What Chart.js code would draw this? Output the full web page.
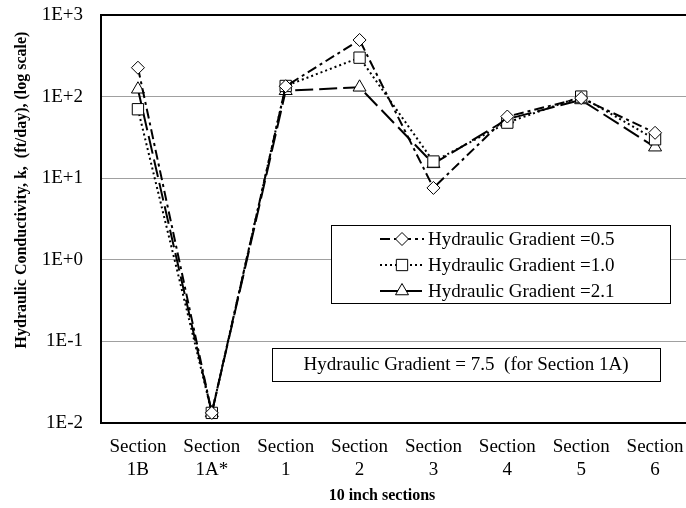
<!DOCTYPE html>
<html>
<head>
<meta charset="utf-8">
<script src="https://cdn.jsdelivr.net/npm/chart.js@4/dist/chart.umd.min.js"></script>
<style>
html, body { margin: 0; padding: 0; background: #fff; overflow: hidden; }
canvas { display: block; }
</style>
</head>
<body>
<canvas id="myChart" width="720" height="508"></canvas>
<script>
// categories along the bottom (two lines each)
const sections = [['Section', '1B'], ['Section', '1A*'], ['Section', '1'], ['Section', '2'],
                  ['Section', '3'], ['Section', '4'], ['Section', '5'], ['Section', '6']];

// hydraulic conductivity, ft/day
const grad05 = [226, 0.0133, 134, 494, 7.6, 57, 96, 36];
const grad10 = [70, 0.0133, 135, 300, 16, 48, 100, 30];
const grad21 = [123, 0.0133, 118, 130, 15, 53, 91, 24];

const seriesNames = ['Hydraulic Gradient =0.5', 'Hydraulic Gradient =1.0', 'Hydraulic Gradient =2.1'];
const yTickValues = [0.01, 0.1, 1, 10, 100, 1000];
const yTitle = 'Hydraulic Conductivity, k,  (ft/day), (log scale)';
const xTitle = '10 inch sections';
const noteText = 'Hydraulic Gradient = 7.5  (for Section 1A)';

const serif = '"Liberation Serif", "Times New Roman", serif';
// the plot runs a bit past the picture's right edge
const plotRight = 692;

function sci(v) {
    const e = Math.round(Math.log10(v));
    return '1E' + (e >= 0 ? '+' : '') + e;
}

// legend box, note box and axis titles
const overlay = {
    id: 'overlay',
    afterDraw(chart) {
        const ctx = chart.ctx;
        ctx.save();
        ctx.fillStyle = '#000';

        // y title
        ctx.save();
        ctx.font = 'bold 16px ' + serif;
        ctx.textAlign = 'center';
        ctx.textBaseline = 'middle';
        ctx.translate(22, 190);
        ctx.rotate(-Math.PI / 2);
        ctx.fillText(yTitle, 0, 0);
        ctx.restore();

        // x title
        ctx.font = 'bold 16px ' + serif;
        ctx.textAlign = 'center';
        ctx.textBaseline = 'middle';
        ctx.fillText(xTitle, 382, 496);

        // legend
        ctx.fillStyle = '#fff';
        ctx.fillRect(331, 225, 339, 78);
        ctx.strokeStyle = '#000';
        ctx.lineWidth = 1;
        ctx.setLineDash([]);
        ctx.strokeRect(331.5, 225.5, 339, 78);
        ctx.font = '19px ' + serif;
        ctx.textAlign = 'left';
        chart.data.datasets.forEach((ds, i) => {
            const y = 239 + i * 26;
            ctx.strokeStyle = '#000';
            ctx.lineWidth = ds.borderWidth;
            ctx.setLineDash(ds.borderDash);
            ctx.beginPath();
            ctx.moveTo(380, y);
            ctx.lineTo(424, y);
            ctx.stroke();
            ctx.setLineDash([]);
            ctx.fillStyle = '#fff';
            ctx.lineWidth = 1;
            if (Chart.helpers && Chart.helpers.drawPoint) {
                Chart.helpers.drawPoint(ctx, {pointStyle: ds.pointStyle, radius: ds.pointRadius, rotation: 0, borderWidth: 1}, 402, y);
            }
            ctx.fillStyle = '#000';
            ctx.textBaseline = 'middle';
            ctx.fillText(ds.label, 428, y + 1);
        });

        // note box
        ctx.fillStyle = '#fff';
        ctx.fillRect(272, 348, 388, 33);
        ctx.strokeStyle = '#000';
        ctx.lineWidth = 1;
        ctx.strokeRect(272.5, 348.5, 388, 33);
        ctx.fillStyle = '#000';
        ctx.textAlign = 'center';
        ctx.fillText(noteText, 466, 365);

        ctx.restore();
    }
};

const ctx = document.getElementById('myChart').getContext('2d');
const chart = new Chart(ctx, {
    type: 'line',
    data: {
        labels: sections,
        datasets: [{
            label: seriesNames[0],
            data: grad05,
            borderColor: '#000',
            borderWidth: 2,
            borderDash: [10, 4, 3, 4],
            pointStyle: 'rectRot',
            pointRadius: 6.5,
            pointBackgroundColor: '#fff',
            pointBorderColor: '#000',
            pointBorderWidth: 1
        }, {
            label: seriesNames[1],
            data: grad10,
            borderColor: '#000',
            borderWidth: 2,
            borderDash: [2, 3],
            pointStyle: 'rect',
            pointRadius: 8,
            pointBackgroundColor: '#fff',
            pointBorderColor: '#000',
            pointBorderWidth: 1
        }, {
            label: seriesNames[2],
            data: grad21,
            borderColor: '#000',
            borderWidth: 2,
            borderDash: [18, 6],
            pointStyle: 'triangle',
            pointRadius: 7.5,
            pointBackgroundColor: '#fff',
            pointBorderColor: '#000',
            pointBorderWidth: 1
        }]
    },
    options: {
        responsive: false,
        animation: false,
        devicePixelRatio: 1,
        layout: { padding: { top: 15, right: 720 - plotRight, bottom: 0, left: 0 } },
        plugins: { legend: { display: false }, tooltip: { enabled: false } },
        elements: { line: { tension: 0 } },
        scales: {
            x: {
                offset: true,
                grid: { display: false, drawTicks: false },
                border: { color: '#000', width: 2 },
                ticks: { color: '#000', font: { family: serif, size: 19, lineHeight: 1.2 }, padding: 13, maxRotation: 0, autoSkip: false },
                afterFit(scale) {
                    scale.height = 85;
                    scale.paddingLeft = 0;
                    scale.paddingRight = 0;
                }
            },
            y: {
                type: 'logarithmic',
                min: 0.01,
                max: 1000,
                grid: {
                    drawTicks: false,
                    color: c => (c.tick && c.tick.value === 1000) ? '#000' : '#a0a0a0',
                    lineWidth: c => (c.tick && c.tick.value === 1000) ? 2 : 1
                },
                border: { color: '#000', width: 2 },
                afterBuildTicks(scale) { scale.ticks = yTickValues.map(v => ({ value: v })); },
                ticks: { color: '#000', font: { family: serif, size: 19 }, padding: 18, callback: v => sci(v) },
                afterFit(scale) {
                    scale.width = 101;
                    scale.paddingTop = 0;
                    scale.paddingBottom = 0;
                }
            }
        }
    },
    plugins: [overlay]
});

// nudge the right padding so the plot area ends where it should
const miss = plotRight - chart.chartArea.right;
if (Math.abs(miss) > 0.5) {
    chart.options.layout.padding.right = Math.max(0, chart.options.layout.padding.right - miss);
    chart.update();
}
</script>
</body>
</html>
